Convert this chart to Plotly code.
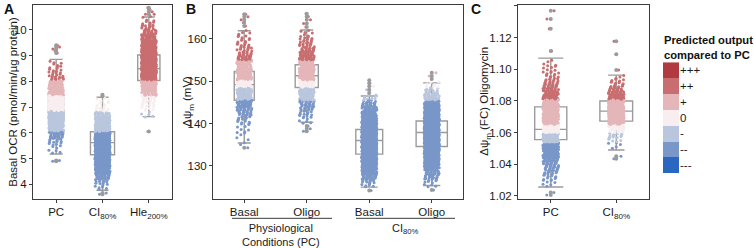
import plotly.graph_objects as go

FONT = "Arial, 'Liberation Sans', sans-serif"
GREY = "#9b9b9b"
AXC = "#3c3c3c"

LEVELS = ['+++', '++', '+', '0', '-', '--', '---']
LEVEL_COLORS = ['#b13a41', '#c96e70', '#e4b6b9', '#f8eef0', '#b9c6dd', '#7a97c9', '#2a67c1']

# ---------------- Panel A : Basal OCR ----------------
A_CATS = ['PC', 'CI<sub>80%</sub>', 'Hle<sub>200%</sub>']
A_BIN = 0.2
A_START = [5.2, 3.8, 6.6]
A_COUNTS = [
    [4, 6, 10, 22, 40, 60, 75, 85, 90, 90, 80, 65, 45, 30, 16, 10, 7, 5],
    [6, 12, 25, 45, 70, 100, 130, 150, 165, 165, 150, 120, 80, 50, 25, 12, 6, 4],
    [4, 6, 10, 15, 25, 40, 60, 85, 110, 120, 115, 100, 80, 60, 45, 30, 20, 12, 7, 3],
]
A_OUT = [[4.9, 4.93, 9.1, 9.17, 9.25, 9.33, 9.4],
         [3.62, 3.67, 7.42, 7.48],
         [6.05, 10.6, 10.7, 10.78, 10.85]]
A_Q1 = [6.51, 5.15, 8.03]
A_MED = [7.0, 5.62, 8.49]
A_Q3 = [7.45, 6.04, 9.02]
A_LO = [5.18, 3.77, 6.63]
A_HI = [8.85, 7.38, 10.49]
A_THR = [6.05, 6.85, 7.45, 8.05]

# ---------------- Panel B : membrane potential ----------------
B_CATS = ['Basal', 'Oligo', 'Basal', 'Oligo']
B_GROUPS = ['Physiological<br>Conditions (PC)', 'CI<sub>80%</sub>']
B_BIN = 1.0
B_START = [135, 140, 125, 125]
B_COUNTS = [
    [2, 2, 3, 3, 4, 6, 10, 15, 20, 25, 28, 30, 30, 30, 30, 30, 30, 28, 26, 22, 18, 14, 10, 8, 6, 5, 4],
    [4, 6, 8, 12, 16, 20, 25, 28, 30, 32, 33, 33, 33, 32, 30, 26, 22, 17, 12, 9, 6, 4],
    [6, 12, 22, 35, 50, 65, 80, 92, 100, 105, 108, 108, 104, 95, 82, 66, 50, 36, 25, 16, 10, 5],
    [4, 8, 14, 22, 32, 44, 58, 70, 82, 92, 100, 105, 108, 108, 104, 96, 84, 70, 56, 42, 30, 20, 13, 8, 4],
]
B_OUT = [[134.3, 163.0, 163.8, 164.5, 165.2, 165.8],
         [138.2, 138.8, 139.4, 162.8, 163.6, 164.5, 165.3, 165.9],
         [124.2, 147.2, 148.0, 148.8, 149.5, 150.2],
         [124.3, 150.5, 151.2, 152.0]]
B_Q1 = [145.5, 148.5, 132.8, 134.6]
B_MED = [149.2, 151.3, 136.0, 137.9]
B_Q3 = [152.3, 153.9, 138.6, 140.6]
B_LO = [135.4, 140.3, 125.0, 125.4]
B_HI = [161.9, 162.1, 146.5, 149.6]
B_THR = [145.5, 148.5, 150.3, 155.0]

# ---------------- Panel C : FC oligomycin ----------------
C_CATS = ['PC', 'CI<sub>80%</sub>']
C_BIN = 0.002
C_START = [1.026, 1.050]
C_COUNTS = [
    [3, 4, 5, 7, 9, 12, 15, 18, 22, 26, 30, 34, 38, 40, 42, 42, 42, 42, 42, 40,
     40, 38, 36, 34, 32, 30, 28, 25, 22, 20, 16, 12, 10, 8, 6, 5, 4, 3, 3, 2],
    [2, 3, 4, 6, 9, 14, 20, 28, 36, 42, 46, 48, 48, 45, 40, 34, 27, 20, 14, 10, 7, 5, 3],
]
C_OUT = [[1.0205, 1.0222, 1.1115, 1.1255, 1.1317, 1.137],
         [1.0435, 1.045, 1.0995, 1.1095, 1.1177]]
C_Q1 = [1.0555, 1.0672]
C_MED = [1.0620, 1.0735]
C_Q3 = [1.0762, 1.0799]
C_LO = [1.0256, 1.0490]
C_HI = [1.1070, 1.0963]
C_THR = [1.054, 1.060, 1.065, 1.081]

W, H = 754, 248


def px(x):
    return x / W


def py(y):
    return 1 - y / H


def level_color(v, thr):
    # thr: boundaries between --, -, 0, +, ++
    if v < thr[0]:
        return LEVEL_COLORS[5]
    if v < thr[1]:
        return LEVEL_COLORS[4]
    if v < thr[2]:
        return LEVEL_COLORS[3]
    if v < thr[3]:
        return LEVEL_COLORS[2]
    return LEVEL_COLORS[1]


def cloud(start, binw, counts, outliers, center, half):
    """Spread each histogram bin's count over the bin with a low-discrepancy jitter."""
    xs, ys = [], []
    k = 0
    for b, c in enumerate(counts):
        lo = start + b * binw
        for _ in range(c):
            u = (0.5 + k * 0.7548776662) % 1
            v = (0.5 + k * 0.5698402910) % 1
            xs.append(center + (2 * u - 1) * half)
            ys.append(lo + v * binw)
            k += 1
    for o in outliers:
        u = (0.5 + k * 0.7548776662) % 1
        xs.append(center + (2 * u - 1) * half * 0.6)
        ys.append(o)
        k += 1
    return xs, ys


fig = go.Figure()


def add_panel(ax, start, binw, counts, outs, q1, med, q3, lo, hi, thr, half, widths, caps):
    xa = 'x' if ax == 1 else 'x%d' % ax
    ya = 'y' if ax == 1 else 'y%d' % ax
    n = len(counts)
    for i in range(n):
        fig.add_trace(go.Box(
            x=[i], q1=[q1[i]], median=[med[i]], q3=[q3[i]],
            lowerfence=[lo[i]], upperfence=[hi[i]],
            width=widths[i], whiskerwidth=caps[i],
            line=dict(color=GREY, width=1.4), fillcolor='rgba(255,255,255,0)',
            boxpoints=False, hoverinfo='skip', showlegend=False,
            xaxis=xa, yaxis=ya))
    for i in range(n):
        xs, ys = cloud(start[i], binw, counts[i], outs[i], i, half)
        fig.add_trace(go.Scatter(
            x=xs, y=ys, mode='markers',
            marker=dict(size=3, color=[level_color(v, thr) for v in ys], line=dict(width=0)),
            hoverinfo='skip', showlegend=False, xaxis=xa, yaxis=ya))
    for i in range(n):
        fig.add_trace(go.Scatter(
            x=[i] * len(outs[i]), y=outs[i], mode='markers',
            marker=dict(size=4, color=GREY, symbol='circle', line=dict(width=0)),
            hoverinfo='skip', showlegend=False, xaxis=xa, yaxis=ya))


add_panel(1, A_START, A_BIN, A_COUNTS, A_OUT, A_Q1, A_MED, A_Q3, A_LO, A_HI, A_THR,
          0.16, [0.33, 0.52, 0.48], [0.85, 0.5, 0.55])
add_panel(2, B_START, B_BIN, B_COUNTS, B_OUT, B_Q1, B_MED, B_Q3, B_LO, B_HI, B_THR,
          0.12, [0.32, 0.37, 0.43, 0.5], [0.65, 0.56, 0.63, 0.55])
add_panel(3, C_START, C_BIN, C_COUNTS, C_OUT, C_Q1, C_MED, C_Q3, C_LO, C_HI, C_THR,
          0.12, [0.49, 0.5], [0.78, 0.5])

# legend as a heat strip
fig.add_trace(go.Heatmap(
    z=[[i] for i in range(len(LEVELS))], y=LEVELS, x=[0],
    zmin=0, zmax=len(LEVELS) - 1,
    colorscale=[[i / (len(LEVELS) - 1), c] for i, c in enumerate(LEVEL_COLORS)],
    showscale=False, hoverinfo='skip', xaxis='x4', yaxis='y4'))

TICKFONT = dict(family=FONT, size=11.5, color='#1a1a1a')


def xax(dom, n, labels, anchor):
    return dict(domain=dom, range=[-0.5, n - 0.5], tickvals=list(range(n)), ticktext=labels,
                showline=True, mirror=True, linecolor=AXC, linewidth=1,
                ticks='outside', ticklen=3, tickcolor=AXC, showgrid=False, zeroline=False,
                tickfont=TICKFONT, anchor=anchor, fixedrange=True)


def yax(dom, rng, vals, text, anchor):
    return dict(domain=dom, range=rng, tickvals=vals, ticktext=text,
                showline=True, mirror=True, linecolor=AXC, linewidth=1,
                ticks='outside', ticklen=3, tickcolor=AXC, showgrid=False, zeroline=False,
                tickfont=TICKFONT, anchor=anchor, fixedrange=True)


ydom = [py(201), py(5)]
A_TICKS = [4, 5, 6, 7, 8, 9, 10]
B_TICKS = [130, 140, 150, 160]
C_TICKS = [1.02, 1.04, 1.06, 1.08, 1.10, 1.12, 1.14]

fig.update_layout(
    width=W, height=H, margin=dict(l=0, r=0, t=0, b=0),
    paper_bgcolor='white', plot_bgcolor='white',
    font=dict(family=FONT, color='#1a1a1a'),
    xaxis=xax([px(33), px(172)], 3, A_CATS, 'y'),
    yaxis=yax(ydom, [3.45, 10.96], A_TICKS, [str(t) for t in A_TICKS], 'x'),
    xaxis2=xax([px(213), px(463)], 4, B_CATS, 'y2'),
    yaxis2=yax(ydom, [122.3, 168.0], B_TICKS, [str(t) for t in B_TICKS], 'x2'),
    xaxis3=xax([px(518), px(649)], 2, C_CATS, 'y3'),
    yaxis3=yax(ydom, [1.0183, 1.1406], C_TICKS, ['%.2f' % t for t in C_TICKS], 'x3'),
    xaxis4=dict(domain=[px(663), px(679)], visible=False, anchor='y4', fixedrange=True),
    yaxis4=dict(domain=[py(175), py(63)], anchor='x4', side='right', autorange='reversed',
                showline=False, ticks='', showgrid=False, zeroline=False,
                tickfont=dict(family=FONT, size=11.5, color='#1a1a1a'), fixedrange=True),
    showlegend=False,
)

ann = []
for letter, x in [('A', 2), ('B', 184), ('C', 469)]:
    ann.append(dict(text='<b>%s</b>' % letter, x=px(x), y=py(9), xref='paper', yref='paper',
                    xanchor='left', yanchor='middle', showarrow=False,
                    font=dict(family=FONT, size=14, color='#111')))
TITLEFONT = dict(family=FONT, size=11.5, color='#1a1a1a')
for text, x in [('Basal OCR (pmol/min/µg protein)', 13),
                ('Δψ<sub>m</sub> (mV)', 188),
                ('Δψ<sub>m</sub> (FC) Oligomycin', 485)]:
    ann.append(dict(text=text, x=px(x), y=py(103), xref='paper', yref='paper',
                    xanchor='center', yanchor='middle', textangle=-90, showarrow=False,
                    font=TITLEFONT))
# group labels under panel B
for text, x in [(B_GROUPS[0], 281), (B_GROUPS[1], 405)]:
    ann.append(dict(text=text, x=px(x), y=py(223), xref='paper', yref='paper',
                    xanchor='center', yanchor='top', showarrow=False,
                    font=dict(family=FONT, size=11, color='#1a1a1a')))
ann.append(dict(text='<b>Predicted output<br>compared to PC</b>', x=px(662), y=py(48),
                xref='paper', yref='paper', xanchor='left', yanchor='middle', align='left',
                showarrow=False, font=dict(family=FONT, size=11.2, color='#111')))
fig.update_layout(annotations=ann)

shapes = []
for x0, x1 in [(232, 332), (356, 455)]:
    shapes.append(dict(type='line', xref='paper', yref='paper', x0=px(x0), x1=px(x1),
                       y0=py(221), y1=py(221), line=dict(color=AXC, width=1)))
fig.update_layout(shapes=shapes)

fig.write_html("out.html")
